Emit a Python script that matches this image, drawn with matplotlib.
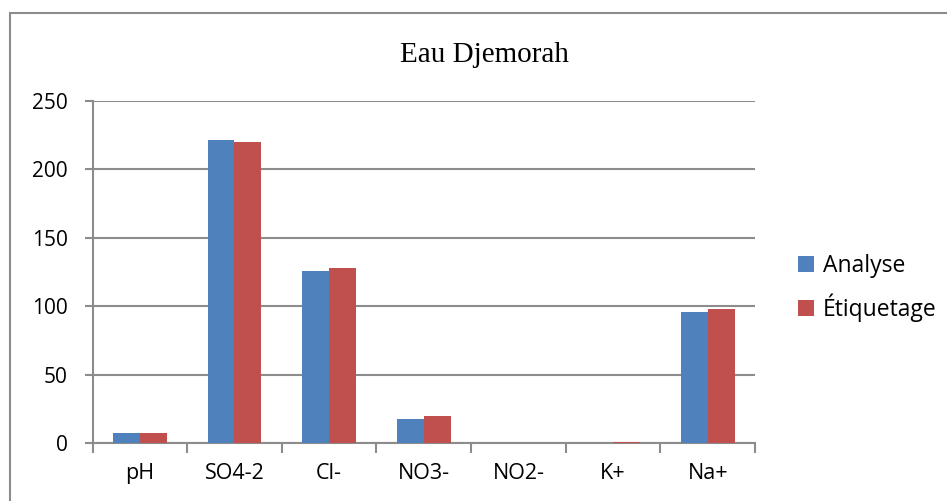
import numpy as np
import matplotlib.pyplot as plt
from matplotlib.patches import Rectangle

categories = ['pH', 'SO4-2', 'Cl-', 'NO3-', 'NO2-', 'K+', 'Na+']
analyse = [7.2, 221.5, 126, 17.5, 0, 0.3, 96]
etiquetage = [7.2, 220, 128, 20.2, 0, 1.1, 98]

plt.rcParams['font.family'] = ['Open Sans', 'DejaVu Sans']

fig = plt.figure(figsize=(9.47, 5.01), dpi=100)
ax = fig.add_axes([0.0977, 0.1152, 0.6996, 0.6832])

x = np.arange(len(categories))
w = 0.285
ax.bar(x - w/2, analyse, w, color='#4F81BD', label='Analyse', zorder=3)
ax.bar(x + w/2, etiquetage, w, color='#C0504D', label='Étiquetage', zorder=3)

ax.set_xlim(-0.5, len(categories) - 0.5)
ax.set_ylim(0, 250)
ax.set_yticks(range(0, 251, 50))
ax.yaxis.grid(True, color='#8c8c8c', linewidth=1.5, zorder=0)
ax.set_axisbelow(True)

ax.set_xticks(x)
ax.set_xticklabels(categories)
ax.set_xticks(np.arange(-0.5, len(categories)), minor=True)
ax.tick_params(axis='x', which='major', length=0, pad=14, labelsize=15.5)
ax.tick_params(axis='x', which='minor', length=7, width=1.5, color='#8c8c8c', direction='out')
ax.tick_params(axis='y', length=6, width=1.5, color='#8c8c8c', pad=12, labelsize=15)

for s in ['top', 'right']:
    ax.spines[s].set_visible(False)
for s in ['left', 'bottom']:
    ax.spines[s].set_color('#8c8c8c')
    ax.spines[s].set_linewidth(1.5)

fig.text(0.512, 1 - 62.3/501, 'Eau Djemorah', ha='center', va='baseline',
         family='Liberation Serif', fontsize=21)

ax.legend(loc='center left', bbox_to_anchor=(1.033, 0.454), frameon=False,
          fontsize=16.5, handlelength=0.7, handleheight=0.7, handletextpad=0.4,
          labelspacing=0.65)

fig.patches.append(Rectangle((10/947, -0.1), 1.2, 1 - 13/501 + 0.1,
                             transform=fig.transFigure, fill=False,
                             edgecolor='#8c8c8c', linewidth=1.5))

plt.savefig('out.png', dpi=100)
